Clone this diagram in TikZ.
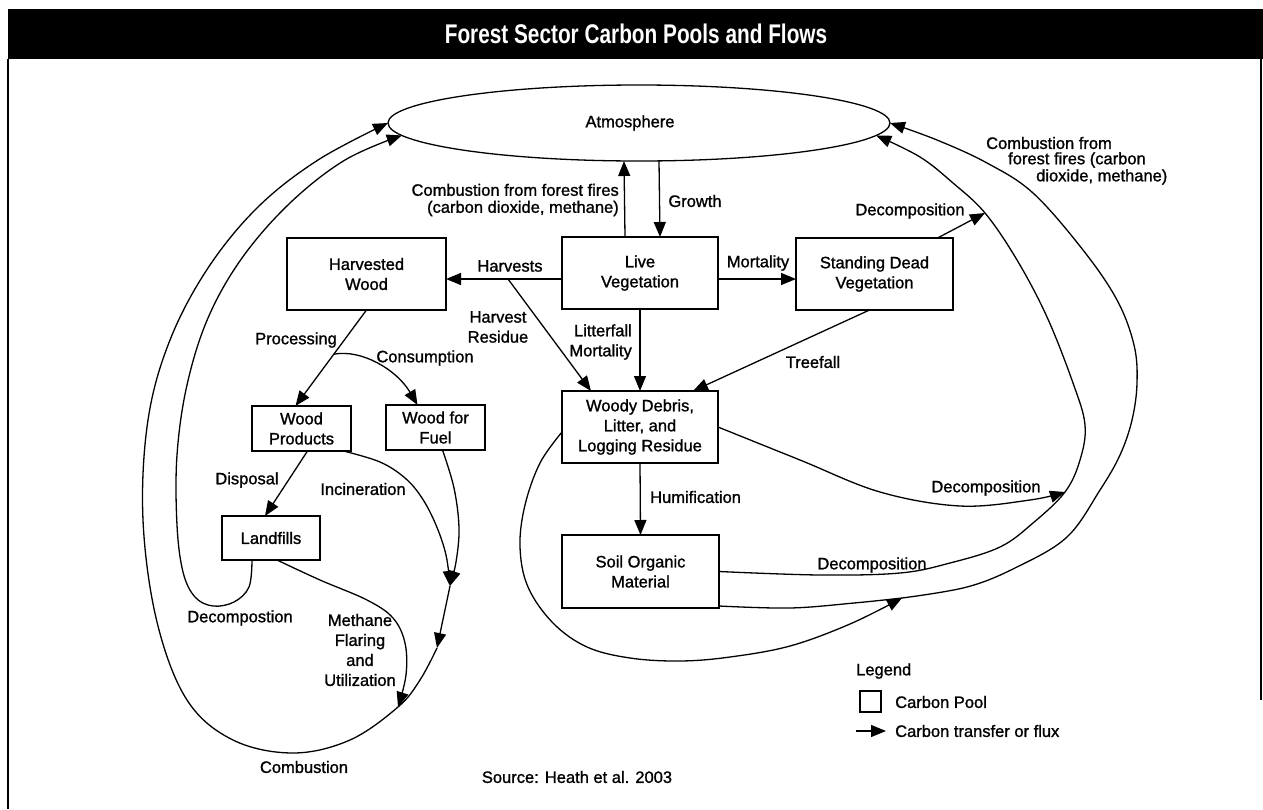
\documentclass[tikz,border=0pt]{standalone}
\usepackage{fontspec}
\setmainfont{Liberation Sans}[FakeBold=1.2]
\newfontfamily\titlefont{Liberation Sans}[FakeStretch=0.77]
\usetikzlibrary{arrows.meta,shapes.geometric,calc}
\newcommand\nsz{\fontsize{16.5pt}{20pt}\selectfont}
\newcommand\tsz{\fontsize{16.5pt}{17pt}\selectfont}
\tikzset{
  box/.style={draw, line width=1.3pt, align=center, inner sep=0pt, outer sep=0pt, font=\nsz},
  lbl/.style={align=center, inner sep=0pt, font=\nsz},
  lblt/.style={inner sep=0pt, font=\tsz},
  flow/.style={line width=1.3pt, -{Triangle[length=15pt,width=12pt]}},
  plain/.style={line width=1.3pt},
  sm/.style={smooth, tension=0.6},
}
\begin{document}
\begin{tikzpicture}[x=1pt,y=-1pt]
\useasboundingbox (0,0) rectangle (1263,809);
% title bar and frame
\fill[black] (8,9) rectangle (1263,59);
\node[text=white, inner sep=0pt, font=\titlefont\bfseries\fontsize{27pt}{30pt}\selectfont] (title) at (636,34) {Forest Sector Carbon Pools and Flows};
\draw[plain] (8,59) -- (8,809);
\draw[plain] (1261,59) -- (1261,700);

% pools
\node[draw, line width=1.3pt, ellipse, minimum width=502pt, minimum height=76pt, inner sep=0pt, outer sep=0pt] (atm) at (639,123) {};
\node[lbl] (atmtxt) at (630,123) {Atmosphere};
\node[box, minimum width=159pt, minimum height=72pt] (hw) at (366.5,274) {Harvested\\Wood};
\node[box, minimum width=156pt, minimum height=72pt] (live) at (640,273) {Live\\Vegetation};
\node[box, minimum width=157pt, minimum height=72pt] (sdv) at (874.5,274) {Standing Dead\\Vegetation};
\node[box, minimum width=156pt, minimum height=72pt] (woody) at (640,427) {Woody Debris,\\Litter, and\\Logging Residue};
\node[box, minimum width=157pt, minimum height=73pt] (soil) at (640.5,571.5) {Soil Organic\\Material};
\node[box, minimum width=99pt, minimum height=45pt] (wp) at (301.5,428.5) {Wood\\Products};
\node[box, minimum width=99pt, minimum height=45pt] (wff) at (435.5,427.5) {Wood for\\Fuel};
\node[box, minimum width=98pt, minimum height=44pt] (land) at (271,538) {Landfills};

% helper coordinates
\coordinate (harvA) at ([yshift=-6pt]live.west);
\coordinate (harvB) at ([yshift=-5pt]hw.east);
\coordinate (hres) at (508,279);
\coordinate (woodyHR) at ([xshift=-49pt]woody.north);
\coordinate (mortA) at ([yshift=-6pt]live.east);
\coordinate (mortB) at ([yshift=-5pt]sdv.west);
\coordinate (treeA) at ([xshift=-5pt]sdv.south);
\coordinate (treeB) at ([xshift=53pt]woody.north);
\coordinate (sdvD) at ([xshift=63pt]sdv.north);
\coordinate (dSDV) at (985,213);
\coordinate (growA) at ([xshift=20pt]atm.south);
\coordinate (growB) at ([xshift=20pt]live.north);
\coordinate (combA) at ([xshift=-15pt]live.north);
\coordinate (combB) at ([xshift=-15pt]atm.south);
\coordinate (procB) at ([xshift=-6pt]wp.north);
\coordinate (cj) at ($(hw.south)!0.46!(procB)$);
\coordinate (consB) at ([xshift=-18pt]wff.north);
\coordinate (dispA) at ([xshift=6pt]wp.south);
\coordinate (dispB) at ([xshift=-6pt]land.north);
\coordinate (incA) at ([xshift=42pt]wp.south);
\coordinate (fuelA) at ([xshift=7pt]wff.south);
\coordinate (j1) at (450,586);
\coordinate (j2) at (437,648);
\coordinate (j3) at (398,707);
\coordinate (decA) at ([xshift=-19pt]land.south);
\coordinate (methA) at ([xshift=6pt]land.south);
\coordinate (atmL2) at (atm.183);
\coordinate (atmR2) at (atm.-3);
\coordinate (woodyL) at ([yshift=-5pt]woody.west);
\coordinate (soilRB) at ([yshift=2pt]soil.south east);
\coordinate (j4) at (902,598);
\coordinate (dW) at (1065,492);

% straight flows
\draw[flow] (combA) -- (combB);
\draw[flow] (growA) -- (growB);
\draw[flow] (harvA) -- (harvB);
\draw[flow] (hres) -- (woodyHR);
\draw[flow] (live.south) -- (woody.north);
\draw[flow] (mortA) -- (mortB);
\draw[flow] (treeA) -- (treeB);
\draw[flow] (sdvD) -- (dSDV);
\draw[flow] (woody.south) -- (soil.north);
\draw[flow] (hw.south) -- (procB);
\draw[flow] (cj) .. controls (362,349) and (397,370) .. (consB);
\draw[flow] (dispA) -- (dispB);

% left curves
\draw[flow] plot[sm] coordinates {(incA) (380,462) (405,478) (422,498) (436,525) (446,555) (j1)};
\draw[flow] plot[sm] coordinates {(fuelA) (454,488) (459,528) (456,562) (j1)};
\draw[flow] (j1) -- (j2);
\draw[flow] plot[sm] coordinates {(methA) (320,580) (367,600) (393,618) (405,643) (406,675) (j3)};
\draw[flow] plot[sm] coordinates {(j2) (420,680) (j3) (350,740) (293,753) (233,740) (187,700) (157,622) (143,520) (148,420) (170,340) (208,268) (258,207) (318,160) (atm.west)};
\draw[flow] plot[sm] coordinates {(decA) (249,587) (234,602) (213,606) (195,597) (183,572) (177,525) (177,455) (187,385) (208,318) (242,258) (290,203) (345,160) (atmL2)};

% right curves
\draw[flow] plot[sm] coordinates {(woody.east) (800,460) (880,492) (960,506) (1030,500) (dW)};
\draw[flow] plot[sm] coordinates {(soil.east) (820,575) (900,573) (950,563) (1000,547) (1033,523) (dW) (1080,460) (1085,425) (1073,383) (1047,317) (1017,260) (dSDV) (953,183) (920,157) (atmR2)};
\draw[flow] plot[sm] coordinates {(woodyL) (540,463) (525,505) (520,547) (528,587) (553,623) (587,647) (630,658) (680,661) (730,657) (790,646) (850,624) (j4)};
\draw[plain] plot[sm] coordinates {(soilRB) (790,608) (854,603) (j4)};
\draw[flow] plot[sm] coordinates {(j4) (967,587) (1017,567) (1067,537) (1100,490) (1120,455) (1132,420) (1137,383) (1134,345) (1117,300) (1083,250) (1033,193) (987,163) (937,140) (atm.east)};

% labels
\node[lblt, align=right, anchor=east] (lcomb) at (619,200) {Combustion from forest fires\\(carbon dioxide, methane)};
\node[lbl] (lgrow) at (695,201) {Growth};
\node[lbl] (lharv) at (510,266) {Harvests};
\node[lbl] (lhres) at (498,327) {Harvest\\Residue};
\node[lbl, align=right, anchor=east] (llit) at (632,342) {Litterfall\\Mortality};
\node[lbl] (lmort) at (758,263) {Mortality};
\node[lbl] (ltree) at (813,362) {Treefall};
\node[lbl] (ldec1) at (910,211) {Decomposition};
\node[lblt, anchor=west] (lcr1) at (986,143) {Combustion from};
\node[lblt, anchor=west] (lcr2) at (1008,160) {forest fires (carbon};
\node[lblt, anchor=west] (lcr3) at (1036,177) {dioxide, methane)};
\node[lbl] (lproc) at (296,340) {Processing};
\node[lbl] (lcons) at (425,358) {Consumption};
\node[lbl] (ldisp) at (247,480) {Disposal};
\node[lbl] (linc) at (363,489) {Incineration};
\node[lbl] (ldec2) at (240,618) {Decompostion};
\node[lbl] (lmeth) at (360,650) {Methane\\Flaring\\and\\Utilization};
\node[lbl] (lcomb2) at (304,767) {Combustion};
\node[lbl, anchor=west] (lhum) at (650,497) {Humification};
\node[lbl] (ldec3) at (986,488) {Decomposition};
\node[lbl] (ldec4) at (872,565) {Decomposition};

% legend and source
\node[lbl, anchor=west] (lleg) at (856,671) {Legend};
\node[draw, line width=1.3pt, minimum width=21pt, minimum height=21pt, inner sep=0pt] (lgbox) at (870.5,701.5) {};
\node[lbl, anchor=west] (lpool) at (895,702) {Carbon Pool};
\coordinate (lgA) at (856,731);
\coordinate (lgB) at (886,731);
\draw[flow] (lgA) -- (lgB);
\node[lbl, anchor=west] (lflux) at (895,731) {Carbon transfer or flux};
\node[lbl] (lsrc) at (577,777) {Source: Heath et al. 2003};
\end{tikzpicture}
\end{document}
